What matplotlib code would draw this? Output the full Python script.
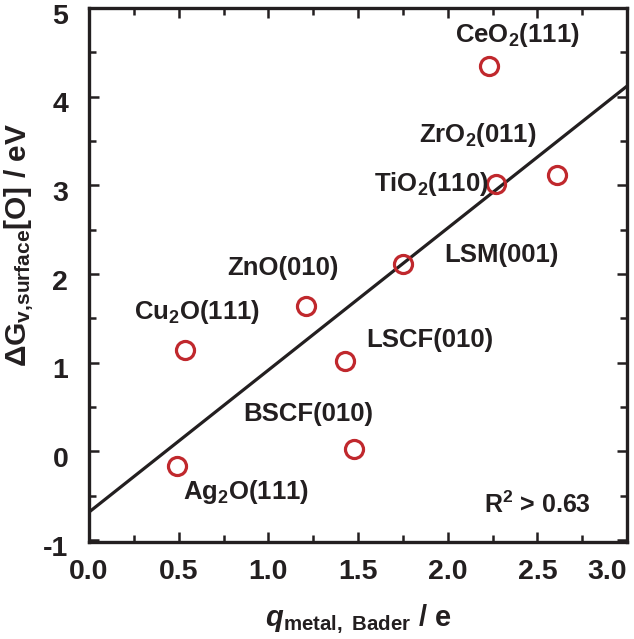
import numpy as np
import matplotlib
matplotlib.use("Agg")
import matplotlib.pyplot as plt
from matplotlib.ticker import MultipleLocator
from matplotlib.transforms import ScaledTranslation

plt.rcParams['font.family'] = ['Liberation Sans', 'DejaVu Sans']
plt.rcParams['font.weight'] = 'bold'
plt.rcParams['mathtext.fontset'] = 'custom'
plt.rcParams['mathtext.rm'] = 'Liberation Sans:bold'
plt.rcParams['mathtext.it'] = 'Liberation Sans:bold:italic'
plt.rcParams['mathtext.bf'] = 'Liberation Sans:bold'
plt.rcParams['mathtext.sf'] = 'Liberation Sans'

# Data
materials = ["Ag$_2$O(111)", "Cu$_2$O(111)", "ZnO(010)", "LSCF(010)", "BSCF(010)",
             "LSM(001)", "CeO$_2$(111)", "TiO$_2$(110)", "ZrO$_2$(011)"]
q_bader = [0.49, 0.535, 1.21, 1.43, 1.48, 1.75, 2.23, 2.27, 2.61]
dG_vac = [-0.165, 1.14, 1.64, 1.02, 0.03, 2.11, 4.35, 3.02, 3.12]
label_x = [0.875, 0.60, 1.08, 1.90, 1.22, 2.30, 2.39, 1.91, 2.165]
label_y = [-0.46, 1.57, 2.07, 1.26, 0.42, 2.21, 4.70, 3.01, 3.57]
r2_text = "R$^2$ > 0.63"
xtick_vals = [0.0, 0.5, 1.0, 1.5, 2.0, 2.5, 3.0]
ytick_vals = [-1, 0, 1, 2, 3, 4, 5]

ink = '#231f20'
red = '#c0282d'

fig = plt.figure(figsize=(6.34, 6.39), dpi=100)
ax = fig.add_axes([0.1404, 0.152, 0.8486, 0.8355])

# fit line
coef = np.polyfit(q_bader, dG_vac, 1)
xl = np.array([0.0, 3.0])
ax.plot(xl, np.polyval(coef, xl), color=ink, lw=2.3, zorder=2)

ax.plot(q_bader, dG_vac, 'o', ms=13, mfc='none', mec=red, mew=2.3, zorder=3)

for name, lx, ly in zip(materials, label_x, label_y):
    ax.text(lx, ly, name, ha='center', va='center', fontsize=18.5,
            fontweight='bold', color=ink)
ax.text(2.50, -0.60, r2_text, ha='center', va='center', fontsize=18,
        fontweight='bold', color=ink)

ax.set_xlim(0, 3.0)
ax.set_ylim(-1.02, 5.0)
ax.xaxis.set_minor_locator(MultipleLocator(0.25))
ax.yaxis.set_minor_locator(MultipleLocator(0.5))
ax.set_xticks(xtick_vals)
ax.set_xticklabels([f"{v:.1f}" for v in xtick_vals])
ax.set_yticks(ytick_vals)
ax.set_yticklabels([f"{v}" for v in ytick_vals])

ax.tick_params(which='both', direction='in', top=True, right=True,
               width=1.8, color=ink, labelsize=20.5, labelcolor=ink)
ax.tick_params(which='major', length=7.5)
ax.tick_params(axis='x', which='major', pad=12)
ax.tick_params(axis='y', which='major', pad=15)
ax.tick_params(which='minor', length=5)
down = ScaledTranslation(0, -4 / 72, fig.dpi_scale_trans)
for lab in ax.get_xticklabels() + ax.get_yticklabels():
    lab.set_fontweight('bold')
for lab in ax.get_yticklabels():
    lab.set_transform(lab.get_transform() + down)
ax.get_xticklabels()[-1].set_horizontalalignment('right')
for s in ax.spines.values():
    s.set_linewidth(2.4)
    s.set_color(ink)

ax.set_xlabel(r"$q$$_{\mathrm{metal,\ Bader}}$ / e", fontsize=21,
              fontweight='bold', color=ink, labelpad=13)
ax.set_ylabel(r"$\mathsf{\Delta}$G$_{\mathrm{v{,}surface}}$[O] / eV", fontsize=21.5,
              fontweight='bold', color=ink)
ax.yaxis.set_label_coords(-0.0985, 0.556)

fig.savefig("out.png", dpi=100)
